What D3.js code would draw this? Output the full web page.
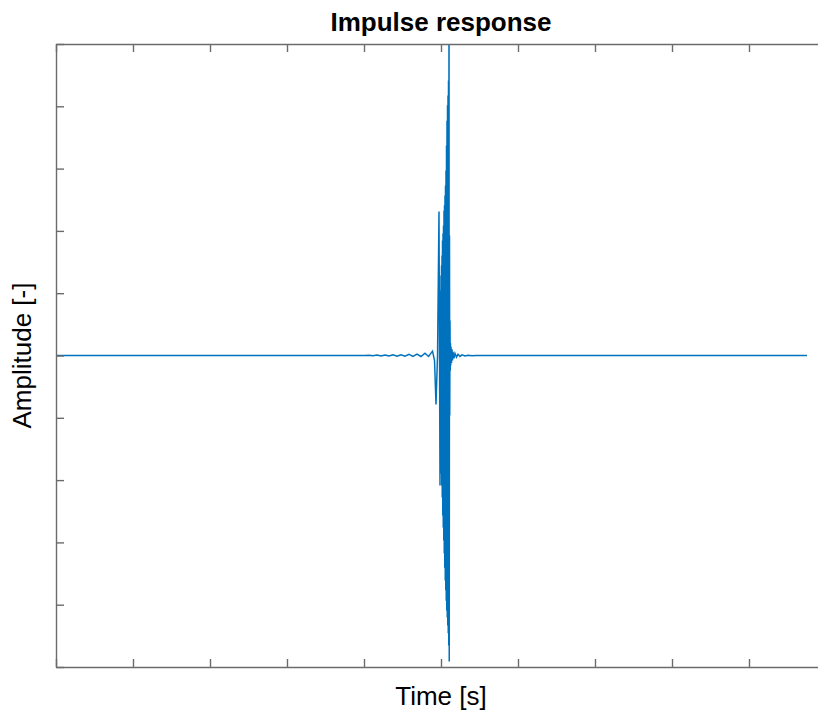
<!DOCTYPE html>
<html>
<head>
<meta charset="utf-8">
<script src="https://cdn.jsdelivr.net/npm/d3@7"></script>
<style>
  html, body { margin: 0; padding: 0; background: #fff; }
  text { font-family: "Liberation Sans", Arial, sans-serif; fill: #000; }
</style>
</head>
<body>
<svg id="chart" width="818" height="718"></svg>
<script>
// Impulse response samples: time [s] and amplitude [-]
const time = [
  0.0000, 0.4013, 0.4065, 0.4117, 0.4169, 0.4221, 0.4273, 0.4325, 0.4377,
  0.4429, 0.4481, 0.4532, 0.4584, 0.4636, 0.4688, 0.4740, 0.4792, 0.4838,
  0.4890, 0.4916, 0.4935, 0.4955, 0.4974, 0.4987,
  0.49935, 0.49968, 0.50000, 0.50032, 0.50065, 0.50097, 0.50130, 0.50162,
  0.50195, 0.50227, 0.50260, 0.50292, 0.50325, 0.50357, 0.50390, 0.50422,
  0.50455, 0.50487, 0.50519, 0.50552, 0.50584, 0.50617, 0.50649, 0.50682,
  0.50714, 0.50747, 0.50779, 0.50812, 0.50844, 0.50877, 0.50909, 0.50942,
  0.50974, 0.51006, 0.51039, 0.51071, 0.51104, 0.51136, 0.51169, 0.51201,
  0.51234, 0.51266, 0.51299, 0.51364, 0.51429, 0.51494, 0.51558, 0.51688,
  0.51818, 0.52013, 0.52208, 0.52468, 0.52727, 0.53117, 0.53506, 0.54026,
  0.54545, 0.97532
];
const amplitude = [
  0.0000, 0.0000, 0.0010, -0.0010, 0.0012, -0.0012, 0.0015, -0.0015, 0.0020,
  -0.0020, 0.0026, -0.0024, 0.0034, -0.0026, 0.0048, -0.0032, 0.0072, -0.0030,
  0.0140, -0.0160, -0.157, 0.000, 0.462, -0.417,
  0.209, -0.321, 0.257, -0.379, 0.289, -0.417, 0.321, -0.456,
  0.369, -0.514, 0.392, -0.552, 0.417, -0.594, 0.465, -0.636,
  0.482, -0.681, 0.514, -0.722, 0.546, -0.754, 0.594, -0.787,
  0.674, -0.819, 0.754, -0.841, 0.803, -0.867, 0.835, -0.892,
  0.883, -0.931, 1.348, -0.982, 0.385, -0.193, 0.112, -0.048,
  0.039, -0.032, 0.028, -0.024, 0.020, -0.016, 0.012, -0.009,
  0.0070, -0.0055, 0.0040, -0.0030, 0.0022, -0.0015, 0.0010, -0.0005,
  0.0000, 0.0000
];

// Axis limits and tick positions (ticks carry no labels)
const xTicks = [0, 0.1, 0.2, 0.3, 0.4, 0.5, 0.6, 0.7, 0.8, 0.9, 1.0];
const yTicks = [-1, -0.8, -0.6, -0.4, -0.2, 0, 0.2, 0.4, 0.6, 0.8, 1];

const titleText = "Impulse response";
const xLabelText = "Time [s]";
const yLabelText = "Amplitude [-]";

const margin = { left: 56, top: 44, right: 826, bottom: 667 };
const svg = d3.select("#chart");

const x = d3.scaleLinear().domain([0, 1]).range([margin.left, margin.right]);
const y = d3.scaleLinear().domain([-1, 1]).range([margin.bottom, margin.top]);

const axisColor = "#6b6b6b";
const tickLen = 8;

svg.append("defs").append("clipPath").attr("id", "plot-clip")
  .append("rect")
  .attr("x", margin.left).attr("y", margin.top)
  .attr("width", margin.right - margin.left)
  .attr("height", margin.bottom - margin.top);

// Response trace
const pts = time.map((t, i) => [t, amplitude[i]]);
svg.append("path")
  .datum(pts)
  .attr("clip-path", "url(#plot-clip)")
  .attr("fill", "none")
  .attr("stroke", "#0072BD")
  .attr("stroke-width", 1.5)
  .attr("stroke-linejoin", "miter")
  .attr("d", d3.line().x(d => x(d[0])).y(d => y(d[1])));

// Box axes with inward ticks on all four sides
function styleAxis(g) {
  g.selectAll("path.domain").attr("stroke", axisColor).attr("stroke-width", 1.4);
  g.selectAll(".tick line").attr("stroke", axisColor).attr("stroke-width", 1.4);
  g.selectAll(".tick text").remove();
}
svg.append("g").attr("transform", `translate(0,${margin.bottom})`)
  .call(d3.axisTop(x).tickValues(xTicks).tickSizeInner(tickLen).tickSizeOuter(0))
  .call(styleAxis);
svg.append("g").attr("transform", `translate(0,${margin.top})`)
  .call(d3.axisBottom(x).tickValues(xTicks).tickSizeInner(tickLen).tickSizeOuter(0))
  .call(styleAxis);
svg.append("g").attr("transform", `translate(${margin.left},0)`)
  .call(d3.axisRight(y).tickValues(yTicks).tickSizeInner(tickLen).tickSizeOuter(0))
  .call(styleAxis);
svg.append("g").attr("transform", `translate(${margin.right},0)`)
  .call(d3.axisLeft(y).tickValues(yTicks).tickSizeInner(tickLen).tickSizeOuter(0))
  .call(styleAxis);

// Title and axis labels
svg.append("text")
  .attr("x", (margin.left + margin.right) / 2).attr("y", 31)
  .attr("text-anchor", "middle")
  .attr("font-size", 26).attr("font-weight", "bold")
  .text(titleText);
svg.append("text")
  .attr("x", (margin.left + margin.right) / 2).attr("y", 705)
  .attr("text-anchor", "middle")
  .attr("font-size", 26).attr("fill", "#262626")
  .text(xLabelText);
svg.append("text")
  .attr("transform", `translate(31,${(margin.top + margin.bottom) / 2}) rotate(-90)`)
  .attr("text-anchor", "middle")
  .attr("font-size", 26).attr("fill", "#262626")
  .text(yLabelText);
</script>
</body>
</html>
